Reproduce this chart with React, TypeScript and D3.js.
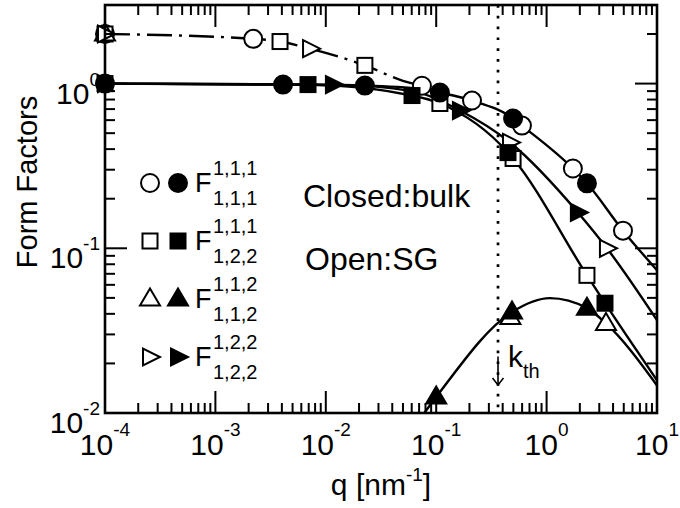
import React from "react";
import * as d3 from "d3";

// q in nm^-1, form factor values
const xExps = [-4, -3, -2, -1, 0, 1];
const yExps = [-2, -1, 0];
const kth = 0.363;
const kthArrow = [0.022, 0.0148];

// solid lines (bulk, joined by SG at large q)
const line111_111 = [[1e-4, 1], [0.0041, 0.986], [0.0226, 0.972], [0.0743, 0.93], [0.108, 0.882], [0.211, 0.789], [0.497, 0.614], [0.598, 0.556], [1.73, 0.305], [2.32, 0.248], [4.92, 0.128], [10, 0.0736]];
const line111_122 = [[1e-4, 1], [0.0069, 0.986], [0.0604, 0.846], [0.108, 0.757], [0.447, 0.381], [0.497, 0.351], [2.32, 0.0685], [3.38, 0.0464], [10, 0.0158]];
const line112_112 = [[0.078, 0.01], [0.1, 0.0125], [0.486, 0.041], [1.07, 0.0498], [2.32, 0.0433], [3.45, 0.035], [10, 0.0147]];
const line122_122 = [[1e-4, 1], [0.0116, 0.986], [0.0604, 0.9], [0.164, 0.686], [0.466, 0.439], [1.92, 0.165], [3.52, 0.1], [10, 0.0366]];
// dash-dot line (SG at small q)
const lineSG = [[1e-4, 2.0], [0.0022, 1.87], [0.00385, 1.8], [0.0072, 1.63], [0.0226, 1.29], [0.05, 1.04], [0.0743, 0.97]];

// open symbols = SG, filled symbols = bulk
const openCircle = [[1e-4, 2.0], [0.0022, 1.87], [0.0743, 0.97], [0.211, 0.789], [0.598, 0.556], [1.73, 0.305], [4.92, 0.128]];
const openSquare = [[1e-4, 2.0], [0.00385, 1.8], [0.0226, 1.29], [0.108, 0.757], [0.497, 0.351], [2.32, 0.0685]];
const openTriangle = [[1e-4, 2.0], [0.47, 0.038], [3.45, 0.035]];
const openRight = [[1e-4, 2.0], [0.0072, 1.63], [0.466, 0.439], [3.52, 0.1]];
const fullCircle = [[1e-4, 1], [0.0041, 0.986], [0.0226, 0.972], [0.108, 0.882], [0.497, 0.614], [2.32, 0.248]];
const fullSquare = [[1e-4, 1], [0.0069, 0.986], [0.0604, 0.846], [0.447, 0.381], [3.38, 0.0464]];
const fullTriangle = [[0.1, 0.0125], [0.486, 0.041], [2.32, 0.0433]];
const fullRight = [[1e-4, 1], [0.0116, 0.986], [0.164, 0.686], [1.92, 0.165]];

const legendRows = [
  { shape: "circle", sup: "1,1,1", sub: "1,1,1" },
  { shape: "square", sup: "1,1,1", sub: "1,2,2" },
  { shape: "triangle", sup: "1,1,2", sub: "1,1,2" },
  { shape: "right", sup: "1,2,2", sub: "1,2,2" },
];

const font = "'Liberation Sans', Arial, Helvetica, sans-serif";

function Marker({ shape, filled, x, y }: { shape: string; filled: boolean; x: number; y: number }) {
  const fill = filled ? "#000" : "#fff";
  const common = { fill, stroke: "#000", strokeWidth: 2 };
  if (shape === "circle") return <circle cx={x} cy={y} r={9} {...common} />;
  if (shape === "square") return <rect x={x - 7.5} y={y - 7.5} width={15} height={15} {...common} />;
  if (shape === "triangle")
    return <polygon points={`${x},${y - 10.5} ${x + 10},${y + 6.5} ${x - 10},${y + 6.5}`} {...common} strokeLinejoin="miter" />;
  return <polygon points={`${x - 7},${y - 8.5} ${x - 7},${y + 8.5} ${x + 10},${y}`} {...common} />;
}

export default function App() {
  const left = 105, right = 657, top = 5, bottom = 413;
  const x = d3.scaleLog().domain([1e-4, 10]).range([left, right]);
  const y = d3.scaleLog().domain([0.01, 3]).range([bottom, top]);

  const line = d3.line<number[]>()
    .x((d) => x(d[0]))
    .y((d) => y(d[1]))
    .curve(d3.curveMonotoneX);

  const isMajor = (t: number) => Math.abs(Math.log10(t) - Math.round(Math.log10(t))) < 1e-6;
  const xTicks = x.ticks();
  const yTicks = y.ticks();
  const major = 22, minor = 10;

  const solid = [line111_111, line111_122, line112_112, line122_122];
  const openSets: [string, number[][]][] = [["circle", openCircle], ["square", openSquare], ["triangle", openTriangle], ["right", openRight]];
  const fullSets: [string, number[][]][] = [["circle", fullCircle], ["square", fullSquare], ["triangle", fullTriangle], ["right", fullRight]];

  const ax = x(kth);

  return (
    <div style={{ position: "absolute", left: 0, top: 0 }}>
      <svg width={680} height={508} style={{ display: "block", background: "#fff" }} fontFamily={font}>
        <defs>
          <clipPath id="plot">
            <rect x={left} y={top} width={right - left} height={bottom - top} />
          </clipPath>
        </defs>

        {/* k_th dotted line */}
        <line x1={ax} x2={ax} y1={top} y2={bottom} stroke="#000" strokeWidth={2.7} strokeDasharray="2.7 8.1" />

        <g clipPath="url(#plot)" fill="none" stroke="#000" strokeWidth={2.4}>
          {solid.map((s, i) => <path key={i} d={line(s) || ""} />)}
          <path d={line(lineSG) || ""} strokeDasharray="25 7 3 7" />
        </g>

        {openSets.map(([shape, pts]) => pts.map((p, i) => <Marker key={shape + "o" + i} shape={shape} filled={false} x={x(p[0])} y={y(p[1])} />))}
        {fullSets.map(([shape, pts]) => pts.map((p, i) => <Marker key={shape + "f" + i} shape={shape} filled={true} x={x(p[0])} y={y(p[1])} />))}

        {/* frame and ticks */}
        <rect x={left} y={top} width={right - left} height={bottom - top} fill="none" stroke="#000" strokeWidth={2.6} />
        <g stroke="#000" strokeWidth={2}>
          {xTicks.map((t, i) => {
            const len = isMajor(t) ? major : minor;
            return (
              <g key={"xt" + i}>
                <line x1={x(t)} x2={x(t)} y1={bottom} y2={bottom - len} />
                <line x1={x(t)} x2={x(t)} y1={top} y2={top + len} />
              </g>
            );
          })}
          {yTicks.map((t, i) => {
            const len = isMajor(t) ? major : minor;
            return (
              <g key={"yt" + i}>
                <line x1={left} x2={left + len} y1={y(t)} y2={y(t)} />
                <line x1={right} x2={right - len} y1={y(t)} y2={y(t)} />
              </g>
            );
          })}
        </g>

        {/* tick labels */}
        {xExps.map((e) => (
          <text key={"xl" + e} x={x(Math.pow(10, e))} y={455} fontSize={30} textAnchor="middle">
            10<tspan dy={-19} fontSize={19}>{e}</tspan>
          </text>
        ))}
        {yExps.map((e) => (
          <text key={"yl" + e} x={100} y={y(Math.pow(10, e)) + 20} fontSize={30} textAnchor="end">
            10<tspan dy={-18} fontSize={19}>{e}</tspan>
          </text>
        ))}

        {/* axis titles */}
        <text x={(left + right) / 2} y={495} fontSize={30} textAnchor="middle">
          q [nm<tspan dy={-14} fontSize={19}>-1</tspan><tspan dy={14}>]</tspan>
        </text>
        <text transform={`translate(37,${(top + bottom) / 2 - 27}) rotate(-90)`} fontSize={29} textAnchor="middle">
          Form Factors
        </text>

        {/* annotations */}
        <text x={303} y={207} fontSize={32}>Closed:bulk</text>
        <text x={305} y={270} fontSize={32}>Open:SG</text>

        <g stroke="#000" strokeWidth={1.6} fill="none">
          <line x1={ax} x2={ax} y1={y(kthArrow[0])} y2={y(kthArrow[1])} />
          <polyline points={`${ax - 5.5},${y(kthArrow[1]) - 7} ${ax},${y(kthArrow[1])} ${ax + 5.5},${y(kthArrow[1]) - 7}`} />
        </g>
        <text x={ax + 10} y={y(kthArrow[1]) - 18} fontSize={30}>
          k<tspan dy={11} fontSize={20}>th</tspan>
        </text>

        {/* legend */}
        {legendRows.map((r, i) => {
          const cy = 183 + i * 58;
          return (
            <g key={"lg" + i}>
              <Marker shape={r.shape} filled={false} x={150} y={cy} />
              <Marker shape={r.shape} filled={true} x={178} y={cy} />
              <text x={195} y={cy + 9} fontSize={27}>F</text>
              <text x={213} y={cy - 8} fontSize={20}>{r.sup}</text>
              <text x={213} y={cy + 22} fontSize={20}>{r.sub}</text>
            </g>
          );
        })}
      </svg>
    </div>
  );
}
